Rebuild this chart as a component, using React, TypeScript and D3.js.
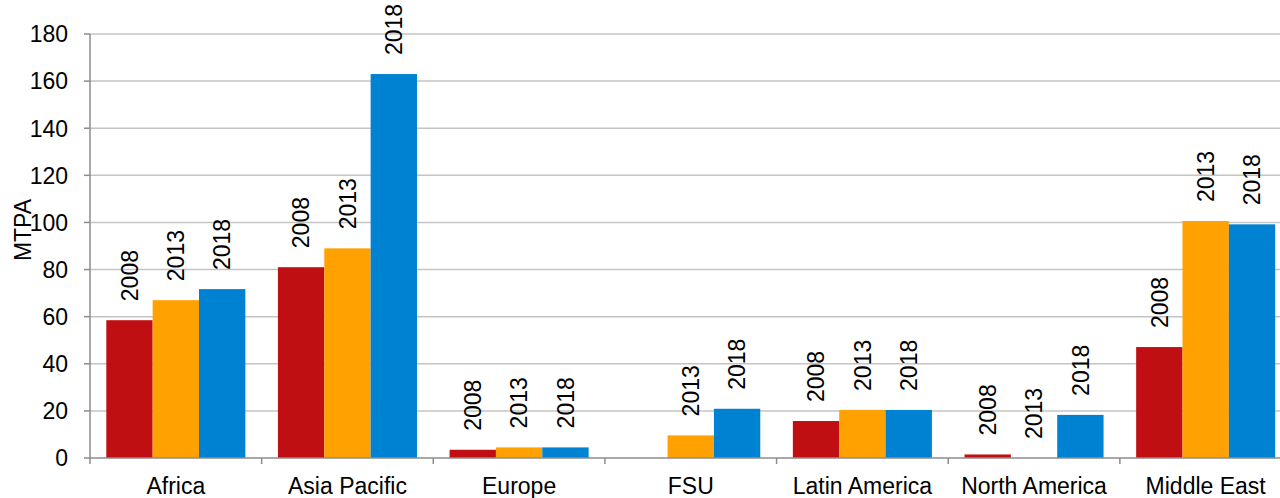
import React from "react";
import * as d3 from "d3";

const categories = ["Africa", "Asia Pacific", "Europe", "FSU", "Latin America", "North America", "Middle East"];
const seriesNames = ["2008", "2013", "2018"];
const values2008: (number | null)[] = [58.5, 81, 3.5, null, 15.7, 1.5, 47.1];
const values2013: (number | null)[] = [67, 89, 4.5, 9.6, 20.4, 0, 100.6];
const values2018: (number | null)[] = [71.7, 163, 4.5, 20.9, 20.4, 18.3, 99.2];
const yTicks = [0, 20, 40, 60, 80, 100, 120, 140, 160, 180];
const colors = ["#c00f13", "#ffa100", "#0082d2"];

const W = 1280;
const H = 498;
const FONT = "'Liberation Sans', Arial, sans-serif";
const FS = 23;

export default function App() {
  const seriesValues = [values2008, values2013, values2018];
  const x = d3.scaleBand<string>().domain(categories).range([90, 1291.5]).padding(0);
  const bw = x.bandwidth();
  const pad = 16.3;
  const xs = d3.scaleBand<string>().domain(seriesNames).range([pad, bw - pad]).padding(0);
  const y = d3.scaleLinear().domain([0, 180]).range([458, 34]);
  const x0 = 90;
  const labelGap = 19;

  return (
    <svg width={W} height={H} style={{ position: "absolute", left: 0, top: 0, background: "#fff" }} fontFamily={FONT}>
      {yTicks.map((t) => (
        <g key={t}>
          {t > 0 && <line x1={x0} x2={W} y1={y(t)} y2={y(t)} stroke="#c4c4c4" strokeWidth={1.5} />}
          <line x1={x0 - 6} x2={x0} y1={y(t)} y2={y(t)} stroke="#8c8c8c" strokeWidth={1.5} />
          <text x={68} y={y(t)} dy="0.36em" textAnchor="end" fontSize={FS} fill="#000">{t}</text>
        </g>
      ))}
      {categories.map((c, ci) => (
        <g key={c}>
          {seriesValues.map((vals, si) => {
            const v = vals[ci];
            if (v === null) return null;
            const bx = (x(c) as number) + (xs(seriesNames[si]) as number);
            const top = y(v);
            return (
              <g key={si}>
                {v > 0 && <rect x={bx} y={top} width={xs.bandwidth()} height={y(0) - top} fill={colors[si]} />}
                <text
                  transform={`translate(${bx + xs.bandwidth() / 2},${top - labelGap}) rotate(-90)`}
                  dy="0.36em"
                  textAnchor="start"
                  fontSize={FS}
                  fill="#000"
                >
                  {seriesNames[si]}
                </text>
              </g>
            );
          })}
          <text x={(x(c) as number) + bw / 2} y={494} textAnchor="middle" fontSize={FS} fill="#000">{c}</text>
        </g>
      ))}
      <line x1={x0} x2={x0} y1={34} y2={458} stroke="#8c8c8c" strokeWidth={1.5} />
      <line x1={x0} x2={W} y1={458} y2={458} stroke="#8c8c8c" strokeWidth={1.5} />
      {categories.map((c) => (
        <line key={c} x1={(x(c) as number)} x2={(x(c) as number)} y1={458} y2={464} stroke="#8c8c8c" strokeWidth={1.5} />
      ))}
      <text transform="translate(31,230) rotate(-90)" textAnchor="middle" fontSize={FS} fill="#000">MTPA</text>
    </svg>
  );
}
